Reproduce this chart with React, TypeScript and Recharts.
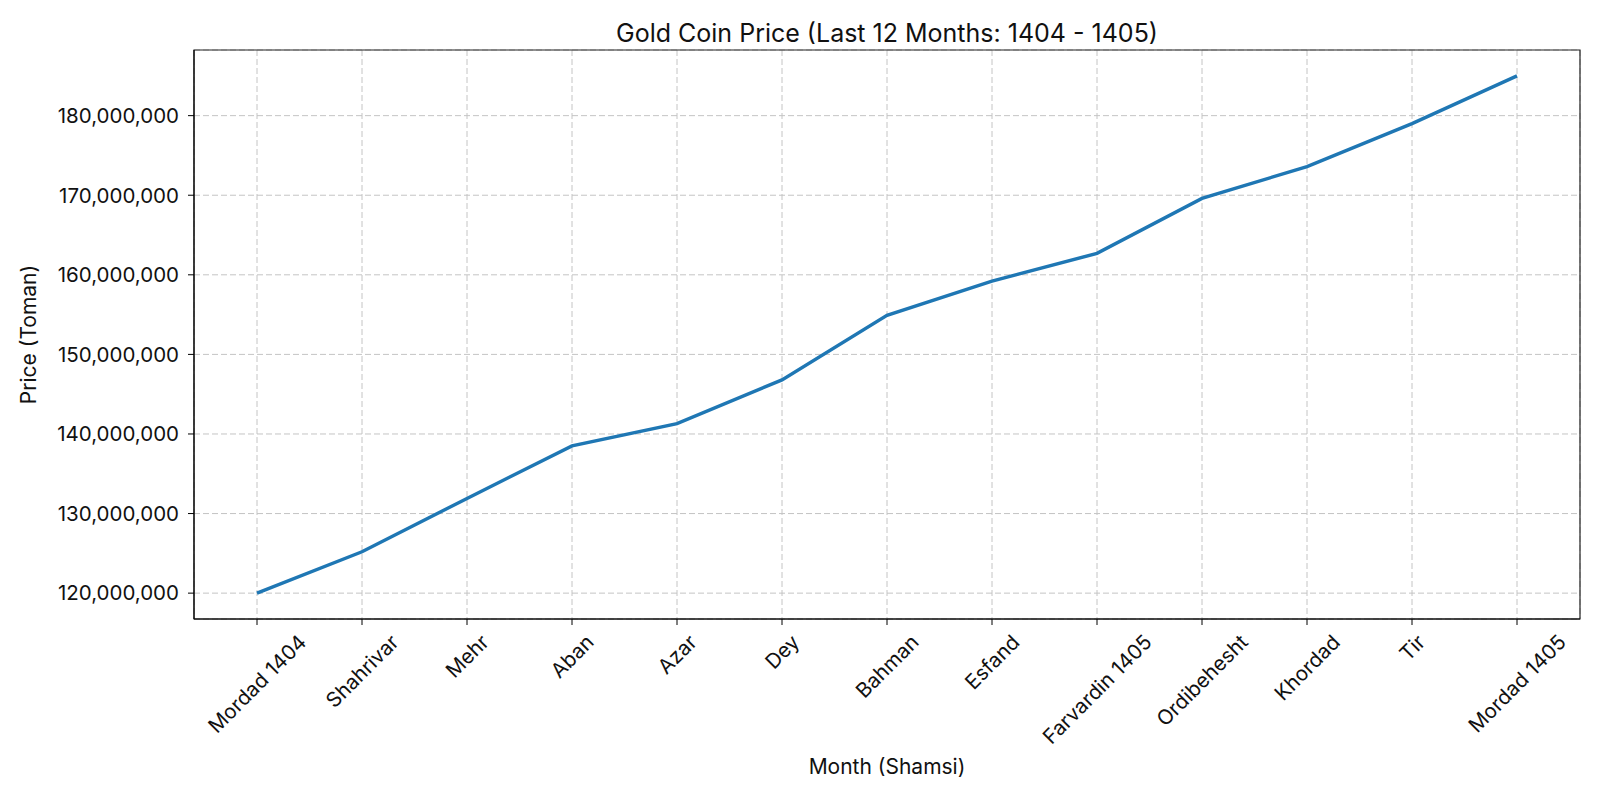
import React from "react";
import {
  LineChart,
  Line,
  XAxis,
  YAxis,
  CartesianGrid,
  ReferenceArea,
} from "recharts";

const months = [
  "Mordad 1404",
  "Shahrivar",
  "Mehr",
  "Aban",
  "Azar",
  "Dey",
  "Bahman",
  "Esfand",
  "Farvardin 1405",
  "Ordibehesht",
  "Khordad",
  "Tir",
  "Mordad 1405",
];

const prices = [
  120000000, 125200000, 131900000, 138500000, 141300000, 146800000, 154900000,
  159200000, 162700000, 169600000, 173600000, 179000000, 185000000,
];

const priceTicks = [
  120000000, 130000000, 140000000, 150000000, 160000000, 170000000, 180000000,
];

const data = months.map((m, i) => ({ idx: i, month: m, price: prices[i] }));

const FONT = "Inter, 'DejaVu Sans', sans-serif";
const TICK_SIZE = 20.5;
const TEXT = "#111";

// matplotlib-like 5% padding
const lo = Math.min(...prices);
const hi = Math.max(...prices);
const yPad = (hi - lo) * 0.05;
const xPad = (months.length - 1) * 0.05;

let ctx: CanvasRenderingContext2D | null = null;
function textWidth(s: string) {
  if (!ctx) ctx = document.createElement("canvas").getContext("2d");
  if (!ctx) return s.length * TICK_SIZE * 0.55;
  ctx.font = `${TICK_SIZE}px Inter`;
  return ctx.measureText(s).width;
}

function MonthTick(props: any) {
  const { x, y, payload } = props;
  const label = months[payload.value] ?? "";
  const w = textWidth(label);
  const half = ((w + TICK_SIZE) * Math.SQRT1_2) / 2;
  const cx = x;
  const cy = y + 6 + half;
  return (
    <text
      x={cx}
      y={cy}
      textAnchor="middle"
      dominantBaseline="central"
      fontSize={TICK_SIZE}
      fontFamily={FONT}
      fill={TEXT}
      transform={`rotate(-45 ${cx} ${cy})`}
    >
      {label}
    </text>
  );
}

export default function App() {
  return (
    <div style={{ position: "absolute", left: 0, top: 0, background: "#fff" }}>
      <LineChart
        width={1600}
        height={800}
        data={data}
        margin={{ top: 50, right: 20, left: 0, bottom: 0 }}
      >
        <CartesianGrid stroke="#c4c4c4" strokeDasharray="6 3" strokeWidth={1} />
        <XAxis
          dataKey="idx"
          type="number"
          domain={[-xPad, months.length - 1 + xPad]}
          ticks={months.map((_, i) => i)}
          interval={0}
          height={181}
          tick={<MonthTick />}
          tickSize={6}
          tickMargin={0}
          stroke="#000"
          tickLine={{ stroke: "#000" }}
          axisLine={{ stroke: "#000" }}
        />
        <YAxis
          type="number"
          domain={[lo - yPad, hi + yPad]}
          ticks={priceTicks}
          width={194}
          tickSize={6}
          tickMargin={9}
          tickFormatter={(v: number) => v.toLocaleString("en-US")}
          tick={{ fill: TEXT, fontSize: TICK_SIZE, fontFamily: FONT }}
          stroke="#000"
          tickLine={{ stroke: "#000" }}
          axisLine={{ stroke: "#000" }}
        />
        <ReferenceArea
          x1={-xPad}
          x2={months.length - 1 + xPad}
          y1={lo - yPad}
          y2={hi + yPad}
          fill="none"
          stroke="#222"
          strokeWidth={1.2}
          ifOverflow="visible"
        />
        <Line
          type="linear"
          dataKey="price"
          stroke="#1f77b4"
          strokeWidth={3.4}
          dot={false}
          activeDot={false}
          isAnimationActive={false}
        />
        <text
          x={887}
          y={42}
          textAnchor="middle"
          fontSize={25}
          fontFamily={FONT}
          fill={TEXT}
        >
          Gold Coin Price (Last 12 Months: 1404 - 1405)
        </text>
        <text
          x={887}
          y={774}
          textAnchor="middle"
          fontSize={21}
          fontFamily={FONT}
          fill={TEXT}
        >
          Month (Shamsi)
        </text>
        <text
          x={36}
          y={334.5}
          textAnchor="middle"
          fontSize={21}
          fontFamily={FONT}
          fill={TEXT}
          transform="rotate(-90 36 334.5)"
        >
          Price (Toman)
        </text>
      </LineChart>
    </div>
  );
}
